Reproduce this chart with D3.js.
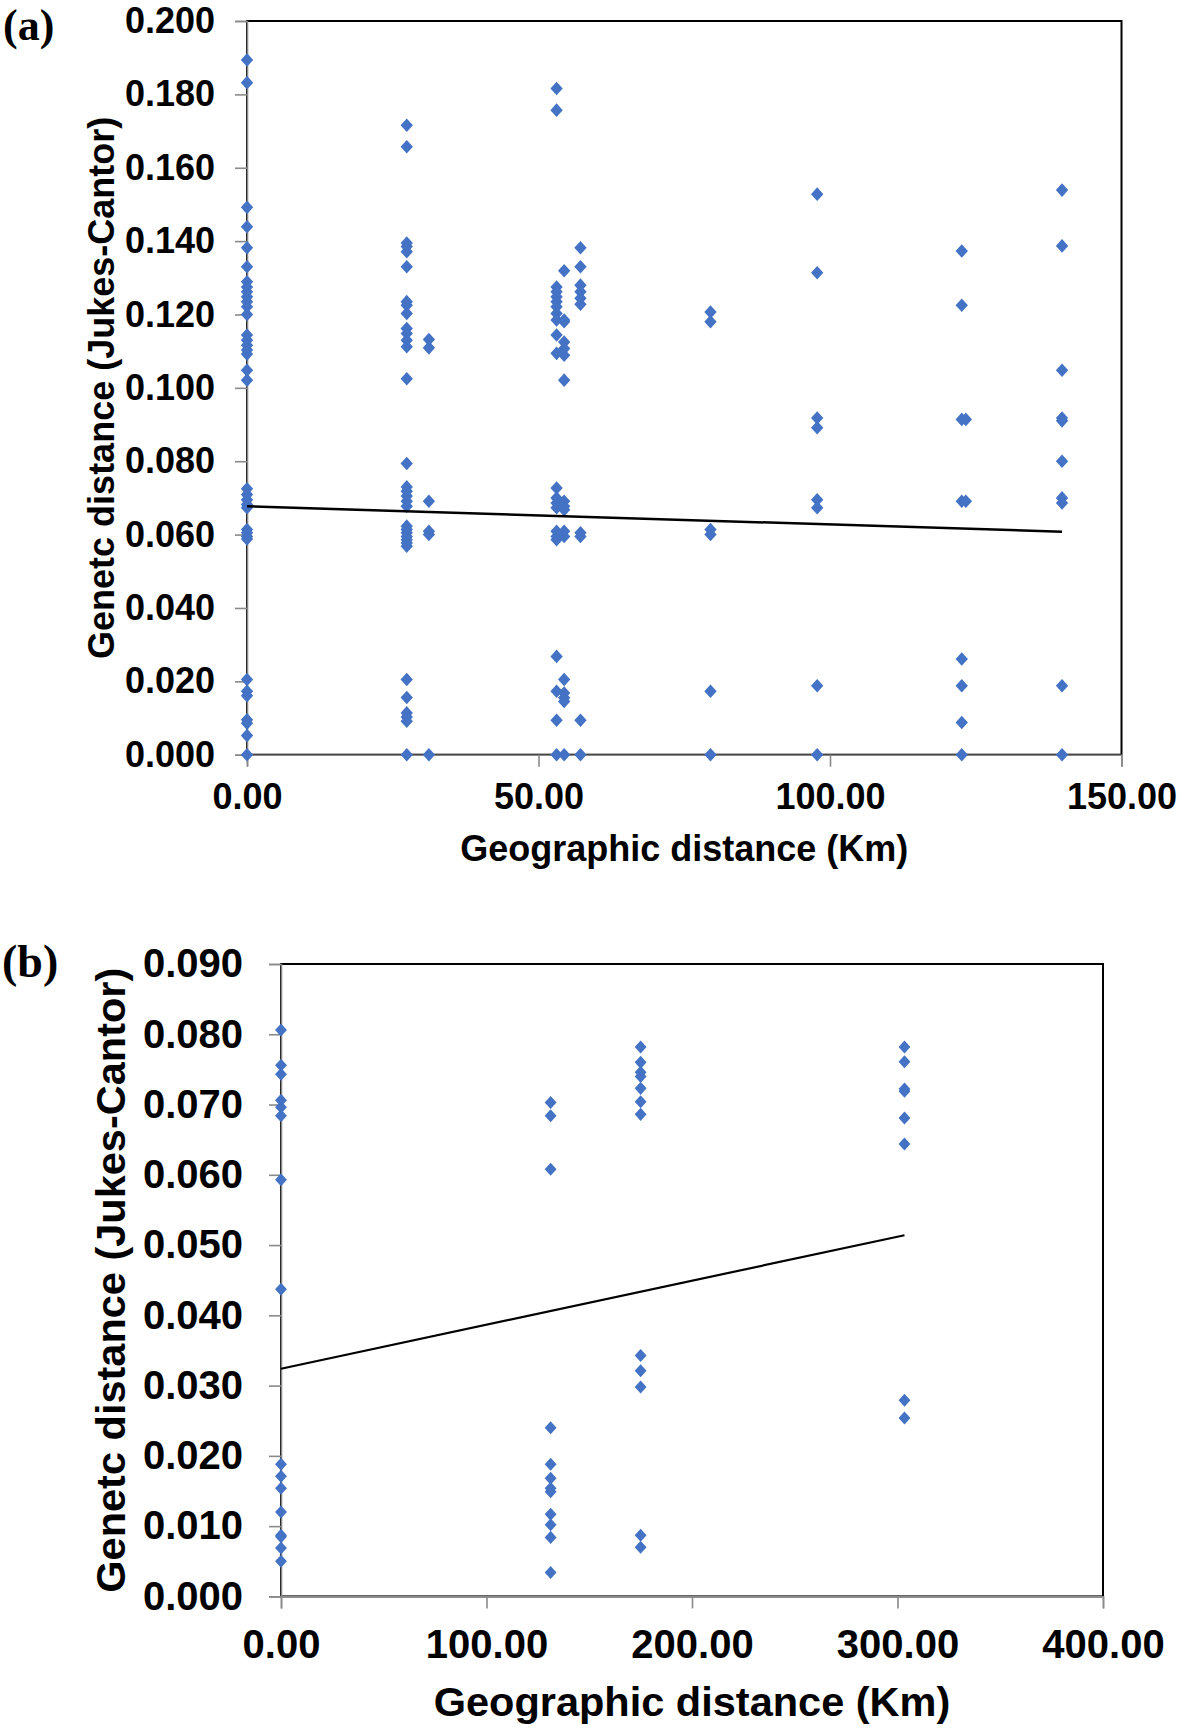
<!DOCTYPE html>
<html>
<head>
<meta charset="utf-8">
<script src="https://cdn.jsdelivr.net/npm/d3@7"></script>
<style>
  html, body { margin: 0; padding: 0; background: #fff; }
  svg { display: block; }
  .tick text { font-family: "Liberation Sans", Arial, sans-serif; font-weight: bold; fill: #000; }
</style>
</head>
<body>
<svg id="chart" width="1181" height="1728"></svg>
<script>
// ---------- Panel (a) data ----------
const aGeoKm = [0, 27.4, 31.2, 53.1, 54.4, 57.2, 79.5, 97.8, 122.6, 123.3, 139.8];
const aGenDist = [
  [0.1894, 0.1832, 0.1492, 0.1439, 0.1382, 0.1330, 0.1289, 0.1275, 0.1262, 0.1248, 0.1235, 0.1221, 0.1200, 0.1144, 0.1130, 0.1116, 0.1103, 0.1092, 0.1048, 0.1021,
   0.0725, 0.0709, 0.0695, 0.0682, 0.0673, 0.0614, 0.0605, 0.0595, 0.0588,
   0.0205, 0.0173, 0.0161, 0.0095, 0.0086, 0.0052, 0],
  [0.1716, 0.1657, 0.1395, 0.1385, 0.1371, 0.1330, 0.1235, 0.1225, 0.1203, 0.1162, 0.1148, 0.1130, 0.1112, 0.1025,
   0.0794, 0.0730, 0.0718, 0.0705, 0.0691, 0.0677, 0.0623, 0.0614, 0.0605, 0.0595, 0.0586, 0.0577, 0.0568,
   0.0205, 0.0156, 0.0114, 0.0103, 0.0091, 0],
  [0.1132, 0.1109, 0.0691, 0.0609, 0.0600, 0],
  [0.1816, 0.1757, 0.1275, 0.1262, 0.1248, 0.1235, 0.1221, 0.1203, 0.1185, 0.1144, 0.1094,
   0.0727, 0.0700, 0.0686, 0.0673, 0.0609, 0.0595, 0.0586, 0.0268, 0.0173, 0.0094, 0],
  [0.1319, 0.1185, 0.1180, 0.1125, 0.1107, 0.1089, 0.1021, 0.0691, 0.0677, 0.0668, 0.0609, 0.0595,
   0.0205, 0.0168, 0.0155, 0.0145, 0],
  [0.1382, 0.1330, 0.1280, 0.1262, 0.1244, 0.1228, 0.0605, 0.0595, 0.0094, 0],
  [0.1207, 0.1180, 0.0614, 0.0600, 0.0173, 0],
  [0.1528, 0.1314, 0.0918, 0.0891, 0.0695, 0.0673, 0.0188, 0],
  [0.1373, 0.1225, 0.0914, 0.0691, 0.0261, 0.0188, 0.0088, 0],
  [0.0914, 0.0691],
  [0.1539, 0.1387, 0.1048, 0.0918, 0.0910, 0.0800, 0.0700, 0.0686, 0.0188, 0]
];
const aTrend = [[0, 0.0677], [139.8, 0.0608]];
const aXTicks = [0, 50, 100, 150];
const aYTicks = [0, 0.02, 0.04, 0.06, 0.08, 0.10, 0.12, 0.14, 0.16, 0.18, 0.20];

// ---------- Panel (b) data ----------
const bGeoKm = [0, 131.2, 175.0, 303.4];
const bGenDist = [
  [0.0806, 0.0756, 0.0743, 0.0706, 0.0696, 0.0684, 0.0593, 0.0437, 0.0188, 0.0171, 0.0154, 0.0120, 0.0087, 0.0085, 0.0069, 0.0050],
  [0.0703, 0.0684, 0.0608, 0.0240, 0.0188, 0.0168, 0.0154, 0.0149, 0.0117, 0.0102, 0.0084, 0.0034],
  [0.0782, 0.0760, 0.0746, 0.0740, 0.0723, 0.0704, 0.0686, 0.0343, 0.0321, 0.0298, 0.0087, 0.0070],
  [0.0782, 0.0761, 0.0722, 0.0719, 0.0681, 0.0644, 0.0279, 0.0254]
];
const bTrend = [[0, 0.0324], [303.4, 0.0514]];
const bXTicks = [0, 100, 200, 300, 400];
const bYTicks = [0, 0.01, 0.02, 0.03, 0.04, 0.05, 0.06, 0.07, 0.08, 0.09];

const xTitle = "Geographic distance (Km)";
const yTitle = "Genetc distance (Jukes-Cantor)";

const svg = d3.select("#chart");
const BLUE = "#4472C4";
const AXIS_GRAY = "#8a8a8a";

function panel(cfg) {
  const g = svg.append("g");
  const x = d3.scaleLinear().domain(cfg.xDomain).range([cfg.left, cfg.right]);
  const y = d3.scaleLinear().domain(cfg.yDomain).range([cfg.bottom, cfg.top]);

  // plot area border (black top/right)
  g.append("rect")
    .attr("x", cfg.left).attr("y", cfg.top)
    .attr("width", cfg.right - cfg.left).attr("height", cfg.bottom - cfg.top)
    .attr("fill", "none").attr("stroke", "#000").attr("stroke-width", 2);

  // y axis
  const yAxis = g.append("g")
    .attr("transform", `translate(${cfg.left},0)`)
    .call(d3.axisLeft(y).tickValues(cfg.yTicks).tickFormat(d3.format(".3f")).tickSize(12).tickPadding(cfg.yPad));
  yAxis.select(".domain").attr("stroke", AXIS_GRAY).attr("stroke-width", 1.6);
  yAxis.selectAll(".tick line").attr("stroke", AXIS_GRAY).attr("stroke-width", 1.6);
  yAxis.selectAll(".tick text").style("font-size", cfg.fs + "px");

  // x axis
  const xAxis = g.append("g")
    .attr("transform", `translate(0,${cfg.bottom})`)
    .call(d3.axisBottom(x).tickValues(cfg.xTicks).tickFormat(d3.format(".2f")).tickSize(12).tickPadding(cfg.xPad));
  xAxis.select(".domain").attr("stroke", AXIS_GRAY).attr("stroke-width", 1.6);
  xAxis.selectAll(".tick line").attr("stroke", AXIS_GRAY).attr("stroke-width", 1.6);
  xAxis.selectAll(".tick text").style("font-size", cfg.fs + "px");

  // points
  const pts = [];
  cfg.xs.forEach((xv, i) => cfg.ys[i].forEach(yv => pts.push([xv, yv])));
  const sym = d3.symbol().type(d3.symbolSquare).size(cfg.msize);
  g.append("g").selectAll("path").data(pts).join("path")
    .attr("d", sym)
    .attr("transform", d => `translate(${x(d[0])},${y(d[1])}) scale(1,1.1) rotate(45)`)
    .attr("fill", BLUE);

  // trend line
  g.append("path")
    .datum(cfg.trend)
    .attr("d", d3.line().x(d => x(d[0])).y(d => y(d[1])))
    .attr("fill", "none").attr("stroke", "#000").attr("stroke-width", cfg.lw);

  // axis titles
  g.append("text")
    .attr("x", (cfg.left + cfg.right) / 2).attr("y", cfg.xTitleY)
    .attr("text-anchor", "middle")
    .style("font-family", '"Liberation Sans", Arial, sans-serif')
    .style("font-weight", "bold").style("font-size", cfg.tfs + "px")
    .text(xTitle);
  g.append("text")
    .attr("transform", `translate(${cfg.yTitleX},${(cfg.top + cfg.bottom) / 2}) rotate(-90)`)
    .attr("text-anchor", "middle")
    .style("font-family", '"Liberation Sans", Arial, sans-serif')
    .style("font-weight", "bold").style("font-size", cfg.tfs + "px")
    .text(yTitle);

  // panel label
  g.append("text")
    .attr("x", cfg.labelX).attr("y", cfg.labelY)
    .style("font-family", '"Liberation Serif", "Times New Roman", serif')
    .style("font-weight", "bold").style("font-size", cfg.lfs + "px")
    .text(cfg.label);
}

panel({
  xDomain: [0, 150], yDomain: [0, 0.2],
  left: 247, right: 1121.5, top: 21, bottom: 754.7,
  xTicks: aXTicks, yTicks: aYTicks, xs: aGeoKm, ys: aGenDist, trend: aTrend,
  fs: 36, tfs: 36, yPad: 20, xPad: 17, msize: 76, lw: 2.5,
  xTitleY: 861, yTitleX: 114, label: "(a)", labelX: 3, labelY: 40, lfs: 44
});

panel({
  xDomain: [0, 400], yDomain: [0, 0.09],
  left: 281, right: 1103, top: 964, bottom: 1596.4,
  xTicks: bXTicks, yTicks: bYTicks, xs: bGeoKm, ys: bGenDist, trend: bTrend,
  fs: 40, tfs: 41.5, yPad: 26, xPad: 21, msize: 70, lw: 2.2,
  xTitleY: 1716, yTitleX: 125, label: "(b)", labelX: 2, labelY: 977, lfs: 46
});
</script>
</body>
</html>
